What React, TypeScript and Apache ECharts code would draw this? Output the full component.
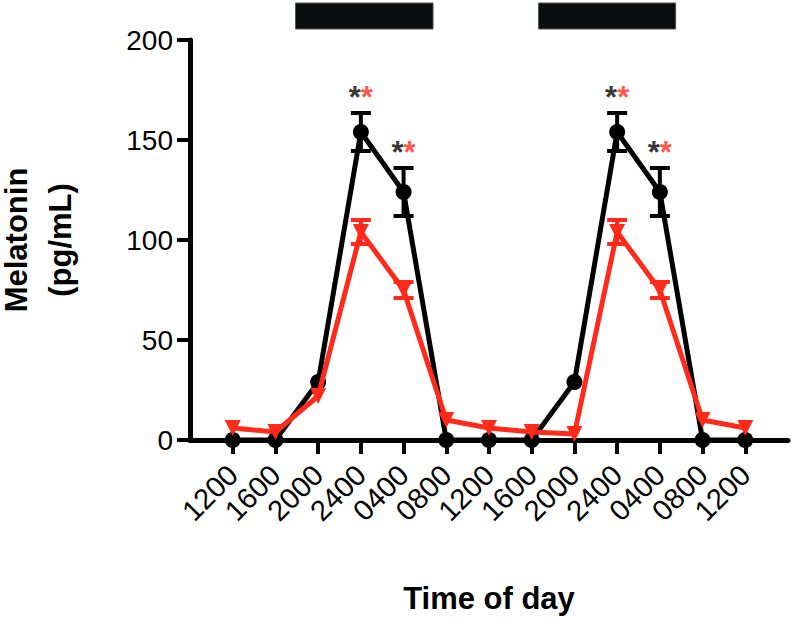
import React, { useEffect, useRef } from "react";
import * as echarts from "echarts";

const TIME_LABELS = ["1200", "1600", "2000", "2400", "0400", "0800", "1200", "1600", "2000", "2400", "0400", "0800", "1200"];
const BLACK_MEAN = [0, 0, 29, 154, 124, 0, 0, 0, 29, 154, 124, 0, 0];
const BLACK_SEM = [0, 0, 0, 9.5, 12, 0, 0, 0, 0, 9.5, 12, 0, 0];
const RED_MEAN = [6, 4, 22, 104, 75, 10, 6, 4, 3, 104, 75, 10, 6];
const RED_SEM = [0, 0, 0, 6, 4, 0, 0, 0, 0, 6, 4, 0, 0];
const SIG_INDEX = [3, 4, 9, 10];
const DARK_START = [1.47, 7.16];
const DARK_END = [4.69, 10.37];

const FONT = "'Liberation Sans', Arial, Helvetica, sans-serif";
const RED = "#ff2a1a";
const BLACK = "#000000";

function errData(mean: number[], sem: number[]) {
  const out: number[][] = [];
  mean.forEach((m, i) => {
    if (sem[i] > 0) out.push([i, m - sem[i], m + sem[i]]);
  });
  return out;
}

function errRender(color: string) {
  return (params: any, api: any) => {
    const x = api.value(0);
    const lo = api.coord([x, api.value(1)]);
    const hi = api.coord([x, api.value(2)]);
    const hw = 10;
    const style = { stroke: color, lineWidth: 4 };
    return {
      type: "group",
      children: [
        { type: "line", shape: { x1: lo[0], y1: lo[1], x2: hi[0], y2: hi[1] }, style },
        { type: "line", shape: { x1: lo[0] - hw, y1: lo[1], x2: lo[0] + hw, y2: lo[1] }, style },
        { type: "line", shape: { x1: hi[0] - hw, y1: hi[1], x2: hi[0] + hw, y2: hi[1] }, style },
      ],
    };
  };
}

export default function App() {
  const ref = useRef<HTMLDivElement>(null);
  useEffect(() => {
    document.body.style.margin = "0";
    if (!ref.current) return;
    const chart = echarts.init(ref.current, null, { renderer: "svg" });
    const idx = TIME_LABELS.map((_, i) => i);
    const option: any = {
      animation: false,
      backgroundColor: "#ffffff",
      grid: { left: 190, right: 5, top: 40, bottom: 187, containLabel: false, outerBoundsMode: "none" },
      xAxis: {
        type: "value",
        min: -1,
        max: 13,
        interval: 1,
        name: "Time of day",
        nameLocation: "middle",
        nameGap: 143,
        nameMoveOverlap: false,
        nameTextStyle: { fontFamily: FONT, fontSize: 31, fontWeight: "bold", color: BLACK },
        axisLine: { show: true, onZero: false, lineStyle: { color: BLACK, width: 5 } },
        axisTick: { show: true, length: 14, lineStyle: { color: BLACK, width: 4 }, customValues: idx },
        axisLabel: {
          show: true,
          customValues: idx,
          rotate: 45,
          margin: 30,
          fontFamily: FONT,
          fontSize: 29,
          color: BLACK,
          formatter: (v: number) => {
            const i = Math.round(v);
            return i >= 0 && i < TIME_LABELS.length ? TIME_LABELS[i] : "";
          },
        },
        splitLine: { show: false },
      },
      yAxis: {
        type: "value",
        min: 0,
        max: 200,
        interval: 50,
        name: "Melatonin\n(pg/mL)",
        nameLocation: "middle",
        nameRotate: 90,
        nameGap: 108,
        nameMoveOverlap: false,
        nameTextStyle: { fontFamily: FONT, fontSize: 31, fontWeight: "bold", color: BLACK, lineHeight: 44 },
        axisLine: { show: true, onZero: false, lineStyle: { color: BLACK, width: 5 } },
        axisTick: { show: true, length: 13, lineStyle: { color: BLACK, width: 4 } },
        axisLabel: { margin: 17, fontFamily: FONT, fontSize: 28, color: BLACK },
        splitLine: { show: false },
      },
      series: [
        {
          type: "custom",
          name: "dark",
          clip: false,
          silent: true,
          renderItem: (params: any, api: any) => {
            const a = api.coord([api.value(0), 218.5]);
            const b = api.coord([api.value(1), 205.5]);
            return {
              type: "rect",
              shape: { x: a[0], y: a[1], width: b[0] - a[0], height: b[1] - a[1] },
              style: { fill: "#0a0d0d", stroke: "#555", lineWidth: 1 },
            };
          },
          data: DARK_START.map((s, i) => [s, DARK_END[i]]),
          z: 1,
        },
        {
          type: "custom",
          name: "blackErr",
          renderItem: errRender(BLACK),
          data: errData(BLACK_MEAN, BLACK_SEM),
          z: 2,
        },
        {
          type: "line",
          name: "black",
          data: BLACK_MEAN.map((v, i) => [i, v]),
          symbol: "circle",
          symbolSize: 16,
          lineStyle: { color: BLACK, width: 5 },
          itemStyle: { color: BLACK },
          z: 3,
        },
        {
          type: "custom",
          name: "redErr",
          renderItem: errRender(RED),
          data: errData(RED_MEAN, RED_SEM),
          z: 4,
        },
        {
          type: "line",
          name: "red",
          data: RED_MEAN.map((v, i) => [i, v]),
          symbol: "triangle",
          symbolRotate: 180,
          symbolSize: 16,
          lineStyle: { color: RED, width: 5 },
          itemStyle: { color: RED },
          z: 5,
        },
        {
          type: "scatter",
          name: "sig",
          symbol: "circle",
          symbolSize: 1,
          itemStyle: { color: "rgba(0,0,0,0)" },
          data: SIG_INDEX.map((i) => [i, BLACK_MEAN[i] + BLACK_SEM[i]]),
          label: {
            show: true,
            position: "top",
            distance: 0,
            formatter: "{a|*}{b|*}",
            rich: {
              a: { color: BLACK, fontSize: 31, fontWeight: "bold", fontFamily: FONT },
              b: { color: RED, fontSize: 31, fontWeight: "bold", fontFamily: FONT },
            },
          },
          z: 6,
        },
      ],
    };
    chart.setOption(option);
    return () => chart.dispose();
  }, []);
  return <div ref={ref} style={{ width: 793, height: 627 }} />;
}
